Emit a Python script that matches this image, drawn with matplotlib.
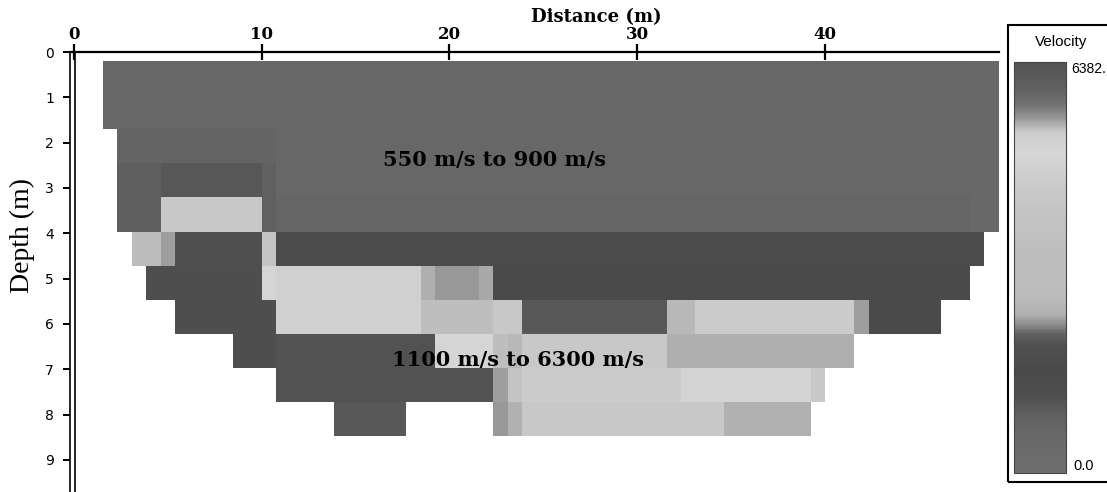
import numpy as np
import matplotlib
matplotlib.use("Agg")
import matplotlib.pyplot as plt
from matplotlib.colors import LinearSegmentedColormap, Normalize
from matplotlib.patches import Rectangle

NAN = np.nan

# ---------------- data ----------------
DIST_TICKS = [0, 10, 20, 30, 40]
DEPTH_TICKS = [0, 1, 2, 3, 4, 5, 6, 7, 8, 9]

# model grid geometry (m)
DIST_LEFT = 1.545
COL_W = 0.7698
DEPTH_TOP = 0.199
ROW_H = 0.7528
N_COLS = 62

VMIN, VMAX = 0.0, 6382.0

# velocity rows (m/s), run-length encoded: (number of cells, velocity)
VELOCITY_ROWS = [
    [(60, 650), (2, 560)],
    [(60, 650), (2, 560)],
    [(1, NAN), (11, 740), (48, 650), (2, 560)],
    [(1, NAN), (3, 900), (7, 1050), (1, 850), (48, 660), (2, 560)],
    [(1, NAN), (3, 920), (7, 4300), (1, 880), (48, 700), (2, 560)],
    [(2, NAN), (2, 2800), (1, 2380), (6, 1200), (1, 4000), (49, 1500), (1, NAN)],
    [(3, NAN), (8, 1250), (1, 5000), (10, 4700), (1, 2450), (3, 2350), (1, 2420),
     (33, 1550), (2, NAN)],
    [(5, NAN), (7, 1250), (10, 4700), (5, 3500), (2, 4300), (10, 2050), (2, 2650),
     (11, 4500), (1, 2380), (5, 1550), (4, NAN)],
    [(9, NAN), (3, 1250), (11, 2000), (4, 5000), (1, 3500), (1, 2650), (10, 4300),
     (13, 2450), (10, NAN)],
    [(12, NAN), (15, 2000), (1, 2380), (1, 4000), (11, 4500), (9, 4900), (1, 4300),
     (12, NAN)],
    [(16, NAN), (5, 2050), (6, NAN), (1, 2350), (1, 2480), (14, 4300), (6, 2480),
     (13, NAN)],
]

# grey colour scale of the velocity legend (fraction of range -> grey level)
CB_POS = [0.00, 0.10, 0.14, 0.19, 0.25, 0.31, 0.34, 0.36, 0.385, 0.43, 0.55,
          0.68, 0.78, 0.83, 0.865, 0.90, 0.94, 1.00]
CB_GRAY = [110, 103, 95, 78, 74, 80, 100, 140, 176, 188, 190, 200, 214, 204,
           150, 112, 96, 84]

ANNOTATIONS = [("550 m/s to 900 m/s", 22.38, 2.38),
               ("1100 m/s to 6300 m/s", 23.65, 6.80)]

# ---------------- build grid ----------------
grid = np.array([np.concatenate([np.full(n, v, dtype=float) for n, v in row])
                 for row in VELOCITY_ROWS])
assert grid.shape[1] == N_COLS
x_edges = DIST_LEFT + COL_W * np.arange(N_COLS + 1)
y_edges = DEPTH_TOP + ROW_H * np.arange(len(VELOCITY_ROWS) + 1)

cmap = LinearSegmentedColormap.from_list(
    "vel_grey", [(p, (g / 255, g / 255, g / 255)) for p, g in zip(CB_POS, CB_GRAY)])
norm = Normalize(VMIN, VMAX)

# ---------------- figure ----------------
W, H = 1107, 492
fig = plt.figure(figsize=(W / 100, H / 100), dpi=100)
ax = fig.add_axes([70 / W, 0, (999 - 70) / W, 1 - 52 / H])

mesh = ax.pcolormesh(x_edges, y_edges, np.ma.masked_invalid(grid), cmap=cmap,
                     norm=norm, shading="flat", antialiased=False, edgecolors="none")

ax.set_xlim(-0.21, 49.28)
ax.set_ylim(9.71, 0)

serif_bold = dict(family="DejaVu Serif", weight="bold")

ax.xaxis.tick_top()
ax.set_xticks(DIST_TICKS)
ax.set_xticklabels([str(t) for t in DIST_TICKS], **serif_bold, fontsize=12)
ax.set_yticks(DEPTH_TICKS)
ax.set_yticklabels([str(t) for t in DEPTH_TICKS], **serif_bold, fontsize=12)
ax.tick_params(axis="x", direction="inout", length=12, width=1.6, pad=0.3)
ax.tick_params(axis="y", direction="out", length=5, width=1.4, pad=6.5)

ax.spines["bottom"].set_visible(False)
ax.spines["top"].set_linewidth(1.6)
ax.spines["left"].set_linewidth(1.2)
# second line of the double vertical axis
ax.spines["right"].set_position(("axes", 4.5 / 929))
ax.spines["right"].set_linewidth(1.2)
ax.tick_params(axis="y", right=False)

ax.set_xlabel("Distance (m)", **serif_bold, fontsize=13)
ax.xaxis.set_label_position("top")
ax.xaxis.set_label_coords(0.567, 1.0795)
ax.xaxis.label.set_va("center")

ax.set_ylabel("Depth (m)", family="Liberation Serif", fontsize=20)
ax.yaxis.set_label_coords(-0.0517, 0.584)
ax.yaxis.label.set_va("center")

for txt, x, y in ANNOTATIONS:
    ax.text(x, y, txt, ha="center", va="center", fontsize=15, **serif_bold)

# ---------------- legend ----------------
sans = "Liberation Sans"
fig.add_artist(Rectangle((1008 / W, 1 - 482 / H), 0.2, (482 - 25) / H,
                         transform=fig.transFigure, fill=False, lw=1.5, ec="black"))
cax = fig.add_axes([1014 / W, 1 - 473 / H, 52 / W, 411 / H])
cb = fig.colorbar(mesh, cax=cax)
cb.set_ticks([])
cb.outline.set_linewidth(0.8)
cb.outline.set_edgecolor("#444444")
cax.text(1.10, 1.0, f"{VMAX:.0f}.", transform=cax.transAxes, ha="left", va="top",
         family=sans, fontsize=10)
cax.text(1.135, 0.0, f"{VMIN:.1f}", transform=cax.transAxes, ha="left", va="bottom",
         family=sans, fontsize=10.5)
fig.text(1061 / W, 1 - 42 / H, "Velocity", ha="center", va="center",
         family=sans, fontsize=11)

fig.savefig("out.png", dpi=100)
